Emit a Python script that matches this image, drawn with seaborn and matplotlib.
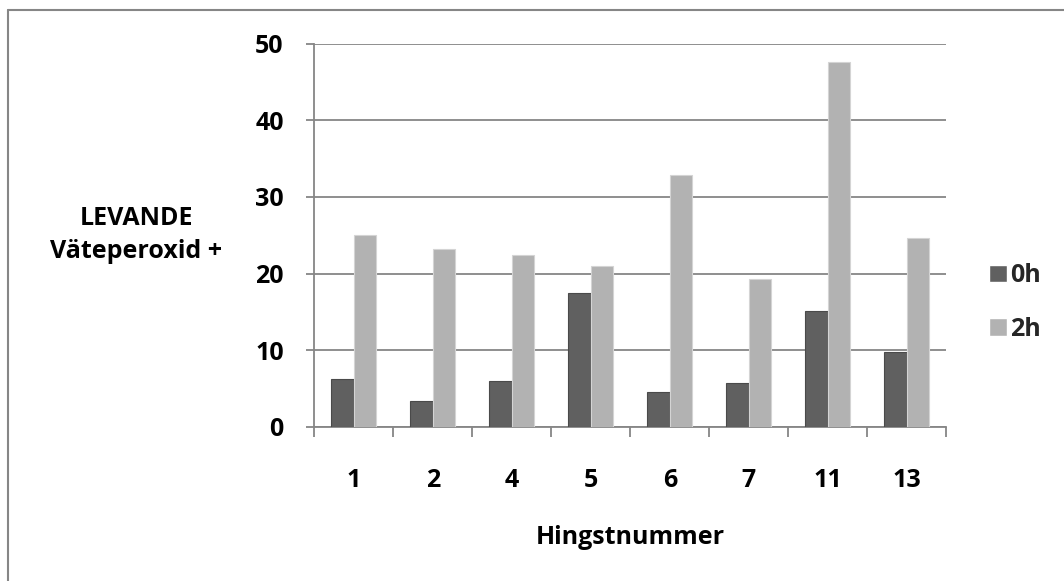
import matplotlib
matplotlib.use("Agg")
import matplotlib.pyplot as plt
from matplotlib.lines import Line2D
import seaborn as sns
import pandas as pd
import numpy as np

# Stallion numbers and share of live sperm (hydrogen peroxide test)
hingst = ["1", "2", "4", "5", "6", "7", "11", "13"]
tid_0h = [6.2, 3.4, 6.0, 17.5, 4.5, 5.7, 15.1, 9.8]
tid_2h = [25.0, 23.2, 22.4, 21.0, 32.9, 19.3, 47.6, 24.6]
serier = ["0h", "2h"]
y_ticks = [0, 10, 20, 30, 40, 50]

df = pd.DataFrame({
    "Hingstnummer": hingst * 2,
    "Tid": [serier[0]] * len(hingst) + [serier[1]] * len(hingst),
    "Värde": tid_0h + tid_2h,
})

sns.set_theme(style="white")
plt.rcParams["font.family"] = ["Open Sans", "DejaVu Sans"]
plt.rcParams["font.weight"] = "bold"

W, H, DPI = 1064, 581, 100
fig = plt.figure(figsize=(W / DPI, H / DPI), dpi=DPI)
fig.patch.set_facecolor("white")

# plot area in pixels: left 314, right 946, top 44, bottom 427
left, right, top, bottom = 314.3, 946.3, 43.7, 426.7
ax = fig.add_axes([left / W, 1 - bottom / H, (right - left) / W, (bottom - top) / H])

grid_c = "#868686"
farger = ["#606060", "#b2b2b2"]
sns.barplot(data=df, x="Hingstnummer", y="Värde", hue="Tid", order=hingst,
            hue_order=serier, palette=farger, width=2 / 3.5, ax=ax,
            saturation=1, errorbar=None, zorder=3)

kant = ["#4a4a4a", "#d4d4d4"]
for cont, ec in zip(ax.containers, kant):
    for b in cont:
        b.set_edgecolor(ec)
        b.set_linewidth(0.8)

ax.set_ylim(0, 50)
ax.set_yticks(y_ticks)
ax.set_xlim(-0.5, len(hingst) - 0.5)
ax.yaxis.grid(True, color=grid_c, linewidth=1.3, zorder=0)
ax.set_axisbelow(True)

for s in ["top", "right"]:
    ax.spines[s].set_visible(False)
for s in ["left", "bottom"]:
    ax.spines[s].set_color(grid_c)
    ax.spines[s].set_linewidth(1.3)

fs = 18
ax.tick_params(axis="y", which="major", left=True, length=6, width=1.3,
               color=grid_c, pad=16, labelsize=fs, labelcolor="black")
ax.set_yticklabels([str(v) for v in y_ticks], fontweight="bold")

# category labels at centres, tick marks at category boundaries
ax.set_xticks(np.arange(len(hingst)))
ax.set_xticklabels(hingst, fontweight="bold")
ax.tick_params(axis="x", which="major", bottom=True, length=0, pad=30,
               labelsize=fs, labelcolor="black")
ax.set_xticks(np.arange(len(hingst) + 1) - 0.5, minor=True)
ax.tick_params(axis="x", which="minor", bottom=True, length=7, width=1.3,
               color=grid_c)

ax.set_xlabel("Hingstnummer", fontsize=fs, fontweight="bold", color="black",
              va="center")
ax.xaxis.set_label_coords(0.5, (bottom - 538) / (bottom - top))
ax.set_ylabel("LEVANDE\nVäteperoxid +", fontsize=fs, fontweight="bold",
              color="black", rotation=0, ha="center", va="center",
              multialignment="center", linespacing=1.4)
ax.yaxis.set_label_coords((136.5 - left) / (right - left),
                          (bottom - 235) / (bottom - top))

handles, labels = ax.get_legend_handles_labels()
ax.legend(handles, labels, loc="upper left",
          bbox_to_anchor=(989 / W, 1 - 263 / H), bbox_transform=fig.transFigure,
          frameon=False, handlelength=0.7, handleheight=0.7,
          handletextpad=0.15, labelspacing=1.15, borderpad=0, borderaxespad=0,
          prop={"weight": "bold", "size": fs, "family": ["Open Sans", "DejaVu Sans"]})

# chart frame (left and top edges)
fig.add_artist(Line2D([7.5 / W, 7.5 / W], [0, 1 - 10 / H], transform=fig.transFigure,
                      color=grid_c, linewidth=1.5))
fig.add_artist(Line2D([7.5 / W, 1], [1 - 10 / H, 1 - 10 / H], transform=fig.transFigure,
                      color=grid_c, linewidth=1.5))

fig.savefig("out.png", dpi=DPI, facecolor="white")
